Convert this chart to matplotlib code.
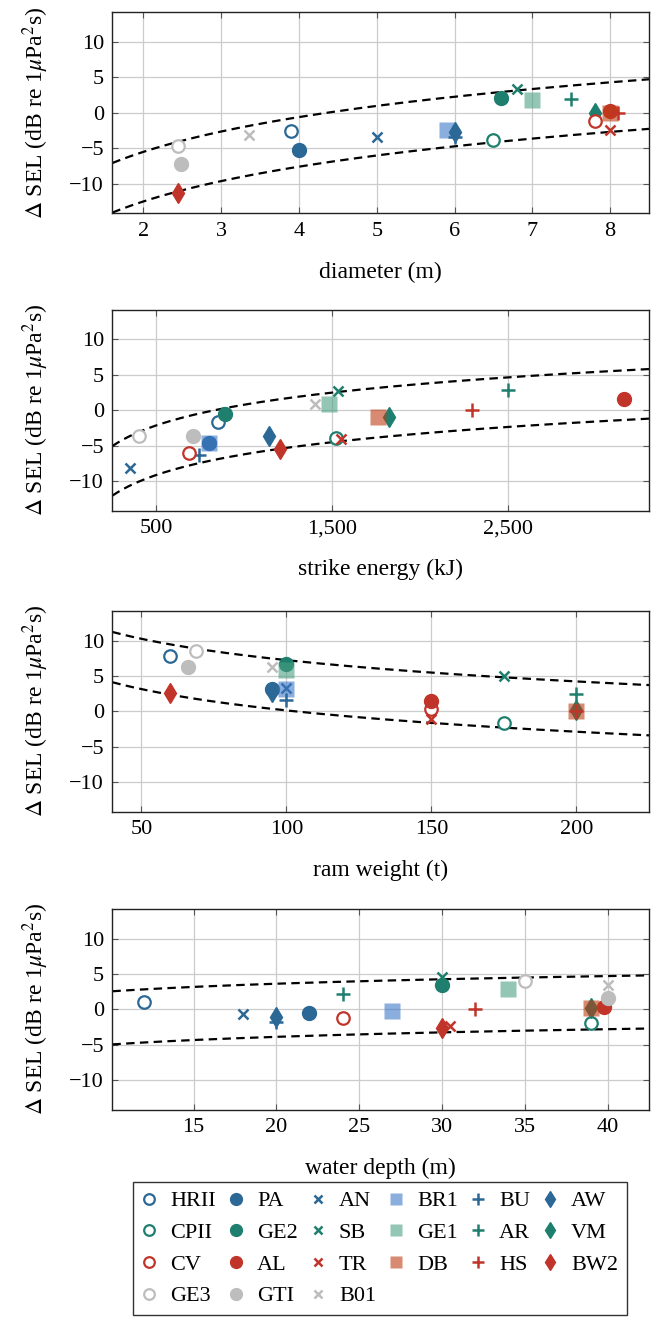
import matplotlib.pyplot as plt
import numpy as np
from matplotlib.lines import Line2D
from matplotlib.ticker import FuncFormatter

plt.rcParams["font.family"] = ["Liberation Serif", "DejaVu Serif"]
plt.rcParams["mathtext.fontset"] = "stix"
plt.rcParams["font.size"] = 16
plt.rcParams["axes.labelsize"] = 17

# campaigns, in the order they are drawn
names = ["HRII", "PA", "AN", "BR1", "BU", "AW",
         "CPII", "GE2", "SB", "GE1", "AR", "VM",
         "CV", "AL", "TR", "DB", "HS", "BW2",
         "GE3", "GTI", "B01"]

blue, teal, red, grey = "#2b6896", "#1e7f6e", "#c1342a", "#bdbdbd"
colors = [blue, blue, blue, "#3d78c8", blue, blue,
          teal, teal, teal, "#4ba082", teal, teal,
          red, red, red, "#c03c14", red, red,
          grey, grey, grey]
kinds = ["open", "dot", "x", "sq", "plus", "dia"] * 3 + ["open", "dot", "x"]

# diameter (m)
diameter = [3.9, 4.0, 5.0, 5.9, 6.0, 6.0,
            6.5, 6.6, 6.8, 7.0, 7.5, 7.8,
            7.8, 8.0, 8.0, 8.0, 8.1, 2.44,
            2.44, 2.48, 3.36]
dsel_diameter = [-2.6, -5.3, -3.4, -2.4, -3.4, -2.7,
                 -3.8, 2.1, 3.3, 1.8, 2.0, 0.0,
                 -1.2, 0.2, -2.5, 0.0, 0.0, -11.3,
                 -4.7, -7.2, -3.2]

# strike energy (kJ)
energy = [850, 802, 353, 802, 741, 1142,
          1520, 892, 1530, 1484, 2500, 1822,
          685, 3156, 1550, 1760, 2295, 1200,
          399, 711, 1399]
dsel_energy = [-1.7, -4.6, -8.1, -4.6, -6.3, -3.7,
               -3.9, -0.5, 2.7, 0.9, 2.9, -0.9,
               -6.1, 1.6, -4.1, -1.0, 0.0, -5.5,
               -3.7, -3.6, 0.9]

# ram weight (t)
ram = [60, 95, 100, 100, 100, 95,
       175, 100, 175, 100, 200, 200,
       150, 150, 150, 200, 200, 60,
       69, 66, 95]
dsel_ram = [7.8, 3.2, 3.3, 3.1, 1.6, 2.8,
            -1.6, 6.7, 5.0, 5.8, 2.5, 0.2,
            0.3, 1.5, -1.1, 0.1, 0.1, 2.6,
            8.5, 6.2, 6.3]

# water depth (m)
depth = [12, 22, 18, 27, 20, 20,
         39, 30, 30, 34, 24, 39,
         24, 39.8, 30.5, 39, 32, 30,
         35, 40, 40]
dsel_depth = [1.0, -0.5, -0.6, -0.2, -1.8, -1.1,
              -1.9, 3.4, 4.5, 2.9, 2.2, 0.2,
              -1.2, 0.4, -2.4, 0.2, 0.0, -2.6,
              4.0, 1.6, 3.4]

xlabels = ["diameter (m)", "strike energy (kJ)", "ram weight (t)", "water depth (m)"]
xlims = [(1.6, 8.5), (250, 3300), (40, 225), (10.1, 42.5)]
xticks = [[2, 3, 4, 5, 6, 7, 8], [500, 1500, 2500], [50, 100, 150, 200],
          [15, 20, 25, 30, 35, 40]]

# log-linear trend a + b*log10(x) with a +/- band
fit_a = [-13.93, -31.83, 23.69, -4.80]
fit_b = [16.3, 9.70, -10.0, 3.59]
fit_band = [3.5, 3.5, 3.55, 3.75]

xs_all = [diameter, energy, ram, depth]
ys_all = [dsel_diameter, dsel_energy, dsel_ram, dsel_depth]


def style(kind, color):
    if kind == "open":
        return dict(marker="o", mfc="white", mec=color, mew=1.6, ms=9)
    if kind == "dot":
        return dict(marker="o", mfc=color, mec=color, ms=10)
    if kind == "x":
        return dict(marker="x", mec=color, mew=1.8, ms=6.5)
    if kind == "plus":
        return dict(marker="+", mec=color, mew=1.8, ms=10)
    if kind == "sq":
        return dict(marker="s", mfc=color, mec="none", ms=11, alpha=0.6)
    return dict(marker="d", mfc=color, mec=color, ms=10)


fig = plt.figure(figsize=(6.56, 13.19), dpi=100)
bottoms = [0.8383, 0.6128, 0.3844, 0.1585]

for i in range(4):
    ax = fig.add_axes([0.1713, bottoms[i], 0.818, 0.1525])
    ax.set_xlim(*xlims[i])
    ax.set_ylim(-14.2, 14.2)
    ax.set_xticks(xticks[i])
    ax.set_yticks([-10, -5, 0, 5, 10])
    if i == 1:
        ax.xaxis.set_major_formatter(FuncFormatter(lambda v, p: f"{v:,.0f}"))
    ax.grid(True, color="#cccccc", lw=0.9)
    ax.set_axisbelow(True)
    ax.tick_params(direction="in", top=True, right=True, length=4,
                   width=0.8, color="#555555", pad=6)
    for s in ax.spines.values():
        s.set_linewidth(1.0)
        s.set_color("#222222")

    xx = np.linspace(xlims[i][0], xlims[i][1], 200)
    trend = fit_a[i] + fit_b[i] * np.log10(xx)
    for sign in (1, -1):
        ax.plot(xx, trend + sign * fit_band[i], color="black", lw=1.6,
                linestyle=(0, (3.8, 2.4)), zorder=2)

    for n, c, k, x, y in zip(names, colors, kinds, xs_all[i], ys_all[i]):
        ax.plot([x], [y], linestyle="none", zorder=3, **style(k, c))

    ax.set_xlabel(xlabels[i], labelpad=15)
    ax.set_ylabel(r"$\Delta$ SEL (dB re 1$\mu$Pa$^2$s)", labelpad=13)

# legend, filled column by column
handles = {}
for n, c, k in zip(names, colors, kinds):
    st = style(k, c)
    st["ms"] = st["ms"] * 0.85
    handles[n] = Line2D([], [], linestyle="none", **st)
order = ["HRII", "CPII", "CV", "GE3", "PA", "GE2", "AL", "GTI",
         "AN", "SB", "TR", "B01", "BR1", "GE1", "DB",
         "BU", "AR", "HS", "AW", "VM", "BW2"]
leg = fig.legend([handles[n] for n in order], order, loc="upper center",
                 bbox_to_anchor=(0.579, 0.1039), ncol=6, frameon=True,
                 fancybox=False, edgecolor="black", handlelength=0.7,
                 handletextpad=0.6, columnspacing=0.55, labelspacing=0.5,
                 borderpad=0.4, borderaxespad=0)
leg.get_frame().set_linewidth(1.0)

fig.savefig("out.png", dpi=100)
